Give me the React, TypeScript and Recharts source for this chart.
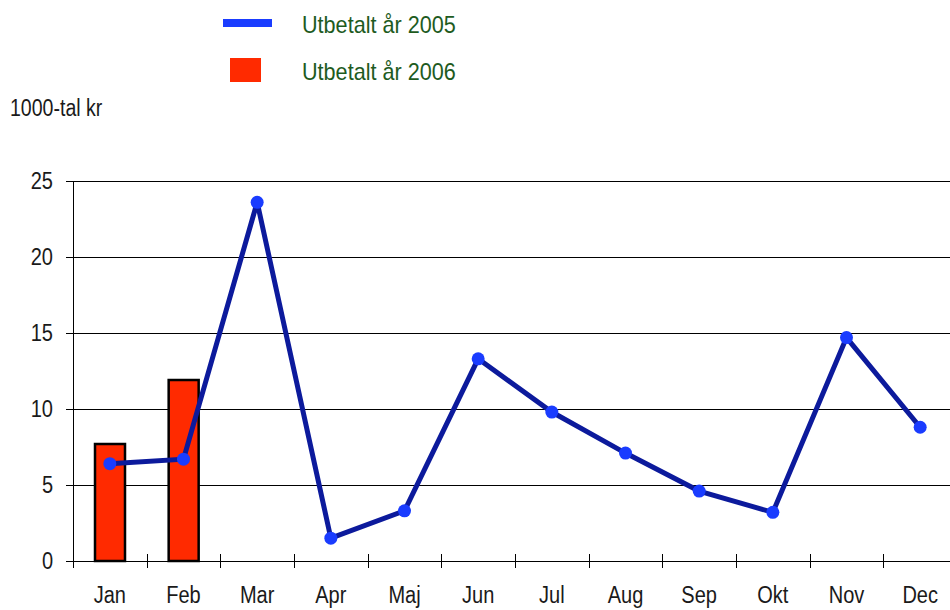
import { ComposedChart, Bar, Line, XAxis, YAxis, CartesianGrid } from "recharts";

const months = ["Jan", "Feb", "Mar", "Apr", "Maj", "Jun", "Jul", "Aug", "Sep", "Okt", "Nov", "Dec"];
const paid2005 = [6.4, 6.7, 23.6, 1.5, 3.3, 13.3, 9.8, 7.1, 4.6, 3.2, 14.7, 8.8];
const paid2006: (number | null)[] = [7.7, 11.9, null, null, null, null, null, null, null, null, null, null];
const yTicks = [0, 5, 10, 15, 20, 25];

const data = months.map((m, i) => ({ month: m, y2005: paid2005[i], y2006: paid2006[i] }));

const FONT = "'Liberation Sans', Arial, sans-serif";
const NARROW = 0.87;
const CHART_W = 960;
const CHART_H = 610;
const Y_AXIS_W = 73;
const MARGIN = { top: 181, right: 3, left: 0, bottom: 0 };
const STEP = (CHART_W - MARGIN.left - MARGIN.right - Y_AXIS_W) / months.length;

function MonthTick(props: any) {
	const { x, y, payload } = props;
	const bx = Math.round(x - STEP / 2) + 0.5;
	return (
		<g>
			<line x1={bx} x2={bx} y1={y - 7} y2={y + 7} stroke="#000" strokeWidth={1} shapeRendering="crispEdges" />
			<text
				transform={`translate(${x},${y + 42}) scale(${NARROW},1)`}
				textAnchor="middle"
				fill="#1a1a1a"
				fontSize={23}
				fontFamily={FONT}
			>
				{payload.value}
			</text>
		</g>
	);
}

function ValueTick(props: any) {
	const { x, y, payload } = props;
	return (
		<text
			transform={`translate(${x},${y + 8}) scale(${NARROW},1)`}
			textAnchor="end"
			fill="#1a1a1a"
			fontSize={23}
			fontFamily={FONT}
		>
			{payload.value}
		</text>
	);
}

const narrowText = (left: number, top: number, size: number, color: string, label: string, scale = NARROW) => (
	<div
		style={{
			position: "absolute",
			left,
			top,
			fontSize: size,
			lineHeight: `${size}px`,
			color,
			whiteSpace: "nowrap",
			transform: `scaleX(${scale})`,
			transformOrigin: "left top",
		}}
	>
		{label}
	</div>
);

export default function App() {
	return (
		<div
			style={{
				position: "fixed",
				left: 0,
				top: 0,
				width: 950,
				height: 610,
				overflow: "hidden",
				background: "#fff",
				fontFamily: FONT,
			}}
		>
			<div style={{ position: "absolute", left: 223, top: 19, width: 49, height: 8, background: "#1a3cff" }} />
			{narrowText(302, 13, 24, "#1e5b1e", "Utbetalt år 2005", 0.9)}
			<div style={{ position: "absolute", left: 230, top: 58, width: 31, height: 24, background: "#ff2a00" }} />
			{narrowText(302, 60, 24, "#1e5b1e", "Utbetalt år 2006", 0.9)}
			{narrowText(10, 97, 23, "#1a1a1a", "1000-tal kr", 0.85)}
			<div style={{ position: "absolute", left: 0, top: 0 }}>
				<ComposedChart width={CHART_W} height={CHART_H} data={data} margin={MARGIN}>
					<CartesianGrid vertical={false} stroke="#000" strokeWidth={1} shapeRendering="crispEdges" />
					<XAxis
						dataKey="month"
						height={CHART_H - 561}
						axisLine={{ stroke: "#000", strokeWidth: 1, shapeRendering: "crispEdges" }}
						tickLine={false}
						tickSize={0}
						tickMargin={0}
						interval={0}
						tick={<MonthTick />}
					/>
					<YAxis
						width={Y_AXIS_W}
						domain={[0, 25]}
						ticks={yTicks}
						interval={0}
						axisLine={{ stroke: "#000", strokeWidth: 1, shapeRendering: "crispEdges" }}
						tickLine={{ stroke: "#000", strokeWidth: 1, shapeRendering: "crispEdges" }}
						tickSize={7}
						tickMargin={13}
						tick={<ValueTick />}
					/>
					<Bar dataKey="y2006" fill="#ff2a00" stroke="#000" strokeWidth={2.5} barSize={30} isAnimationActive={false} />
					<Line
						type="linear"
						dataKey="y2005"
						stroke="#0c1a9c"
						strokeWidth={5}
						dot={{ r: 6.5, fill: "#1a3cff", stroke: "none" }}
						activeDot={false}
						isAnimationActive={false}
					/>
				</ComposedChart>
			</div>
		</div>
	);
}
